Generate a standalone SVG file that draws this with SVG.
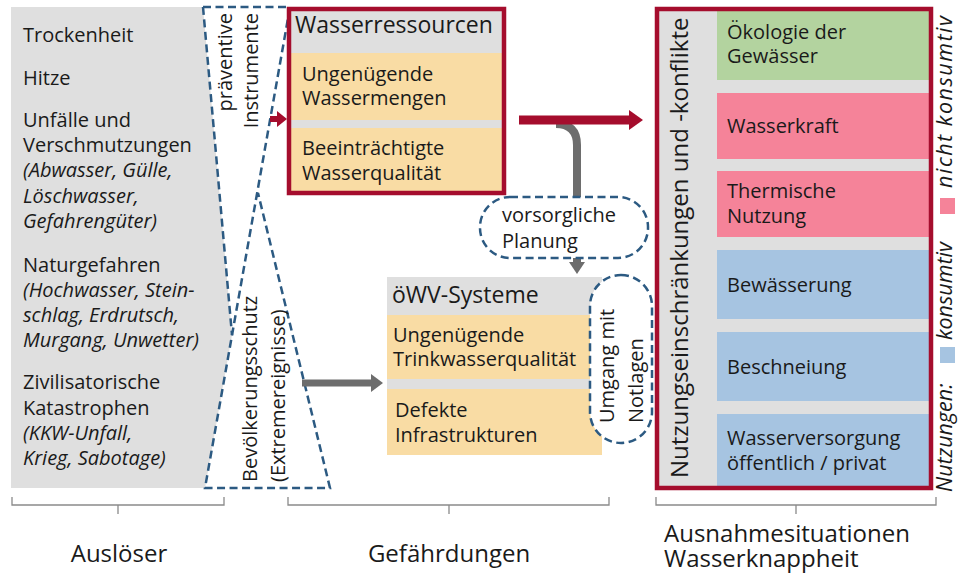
<svg xmlns="http://www.w3.org/2000/svg" width="961" height="574" viewBox="0 0 961 574">
<style>
text{font-family:"Open Sans","Noto Sans","Liberation Sans",sans-serif;fill:#1a1a1a;font-size:20px}
.it{font-style:italic}
.h{font-size:23px}
.lab{font-size:24px}
.leg{font-style:italic;font-size:21.5px}
.grey{fill:#dfdfdf}
.yel{fill:#f9dca4}
.grn{fill:#b3d39f}
.pnk{fill:#f58399}
.blu{fill:#a6c4e1}
.red{fill:none;stroke:#a50d2d;stroke-width:4.5}
.dash{fill:#fff;stroke:#2c5a82;stroke-width:2.5;stroke-dasharray:8 4.5}
.dl{fill:none;stroke:#2c5a82;stroke-width:2.5;stroke-dasharray:8 4.5}
.br{fill:none;stroke:#8a8a8a;stroke-width:1.3}
</style>
<rect width="961" height="574" fill="#fff"/>

<g id="ausloeser">
<polygon class="grey" points="11,7 203,7 232,335 205,488 11,488"/>
<text x="23" y="42">Trockenheit</text>
<text x="23" y="85">Hitze</text>
<text x="23" y="127">Unfälle und</text>
<text x="23" y="152">Verschmutzungen</text>
<text x="23" y="177" class="it">(Abwasser, Gülle,</text>
<text x="23" y="203" class="it">Löschwasser,</text>
<text x="23" y="228" class="it">Gefahrengüter)</text>
<text x="23" y="272">Naturgefahren</text>
<text x="23" y="297" class="it">(Hochwasser, Stein-</text>
<text x="23" y="322" class="it">schlag, Erdrutsch,</text>
<text x="23" y="347" class="it">Murgang, Unwetter)</text>
<text x="23" y="389">Zivilisatorische</text>
<text x="23" y="415">Katastrophen</text>
<text x="23" y="440" class="it">(KKW-Unfall,</text>
<text x="23" y="465" class="it">Krieg, Sabotage)</text>
</g>

<g id="instrumente">
<path class="dl" d="M203,7 L290,7 L205,488 L330,488 L258,193"/>
<path class="dl" d="M203,7 L232,335"/>
<text transform="translate(232,13) rotate(-90)" text-anchor="end">präventive</text>
<text transform="translate(258,13) rotate(-90)" text-anchor="end">Instrumente</text>
<text transform="translate(257,482) rotate(-90)">Bevölkerungsschutz</text>
<text transform="translate(285,482) rotate(-90)">(Extremereignisse)</text>
</g>

<g id="wasserressourcen">
<rect class="grey" x="289" y="9" width="215" height="184"/>
<rect class="yel" x="291" y="53" width="211" height="67"/>
<rect class="yel" x="291" y="128" width="211" height="63"/>
<rect class="red" x="289" y="9" width="215" height="184"/>
<text x="295" y="33" class="h">Wasserressourcen</text>
<text x="302" y="81">Ungenügende</text>
<text x="302" y="105">Wassermengen</text>
<text x="302" y="155">Beeinträchtigte</text>
<text x="302" y="180">Wasserqualität</text>
</g>

<g id="connectors">
<rect x="270" y="116" width="8" height="6" fill="#a50d2d"/>
<polygon points="277,111 287,119 277,127" fill="#a50d2d"/>
<path d="M556,124 Q577,124 577,145 L577,263" fill="none" stroke="#6d6d6d" stroke-width="8"/>
<polygon points="569,262 585,262 577,274" fill="#6d6d6d"/>
<rect x="519" y="115.5" width="112" height="9" fill="#a50d2d"/>
<polygon points="629,110 643,120 629,130" fill="#a50d2d"/>
<rect x="302" y="379.5" width="71" height="7" fill="#6d6d6d"/>
<polygon points="371,374 383,383 371,392" fill="#6d6d6d"/>
</g>

<g id="planung">
<rect class="dash" x="480" y="197" width="168" height="61" rx="30"/>
<text x="502" y="222">vorsorgliche</text>
<text x="502" y="248">Planung</text>
</g>

<g id="oewv">
<rect class="grey" x="387" y="277" width="215" height="178"/>
<rect class="yel" x="387" y="315" width="215" height="64"/>
<rect class="yel" x="387" y="389" width="215" height="66"/>
<text x="392" y="303" class="h">öWV-Systeme</text>
<text x="393" y="342">Ungenügende</text>
<text x="393" y="366">Trinkwasserqualität</text>
<text x="395" y="417">Defekte</text>
<text x="395" y="442">Infrastrukturen</text>
</g>

<g id="notlagen">
<rect class="dash" x="590" y="275" width="62" height="168" rx="31"/>
<text transform="translate(614,423) rotate(-90)">Umgang mit</text>
<text transform="translate(643,423) rotate(-90)">Notlagen</text>
</g>

<g id="nutzungen">
<rect class="grey" x="657" y="9" width="274" height="479"/>
<rect class="grn" x="717" y="11" width="212" height="69"/>
<rect class="pnk" x="717" y="93" width="212" height="66"/>
<rect class="pnk" x="717" y="171" width="212" height="66"/>
<rect class="blu" x="717" y="250" width="212" height="69"/>
<rect class="blu" x="717" y="332" width="212" height="69"/>
<rect class="blu" x="717" y="414" width="212" height="72"/>
<rect class="red" x="657" y="9" width="274" height="479"/>
<text transform="translate(688,478) rotate(-90)" class="lab">Nutzungseinschränkungen und -konflikte</text>
<text x="727" y="39">Ökologie der</text>
<text x="727" y="63">Gewässer</text>
<text x="727" y="133">Wasserkraft</text>
<text x="727" y="198">Thermische</text>
<text x="727" y="223">Nutzung</text>
<text x="727" y="292">Bewässerung</text>
<text x="727" y="374">Beschneiung</text>
<text x="727" y="445">Wasserversorgung</text>
<text x="727" y="470">öffentlich / privat</text>
</g>

<g id="legende">
<text transform="translate(952,492) rotate(-90)" class="leg">Nutzungen:</text>
<rect class="blu" x="940" y="347" width="15" height="16"/>
<text transform="translate(952,340) rotate(-90)" class="leg">konsumtiv</text>
<rect class="pnk" x="940" y="198" width="15" height="16"/>
<text transform="translate(952,188) rotate(-90)" class="leg" textLength="172" lengthAdjust="spacing">nicht konsumtiv</text>
</g>

<g id="klammern">
<path class="br" d="M12,497 L12,505 L224,505 L224,497 M118,505 L118,514"/>
<path class="br" d="M288,497 L288,505 L609,505 L609,497 M449,505 L449,514"/>
<path class="br" d="M656,497 L656,505 L936,505 L936,497 M796,505 L796,514"/>
<text x="119" y="562" class="lab" text-anchor="middle">Auslöser</text>
<text x="449" y="562" class="lab" text-anchor="middle">Gefährdungen</text>
<text x="664" y="542" class="lab">Ausnahmesituationen</text>
<text x="664" y="567" class="lab">Wasserknappheit</text>
</g>
</svg>
